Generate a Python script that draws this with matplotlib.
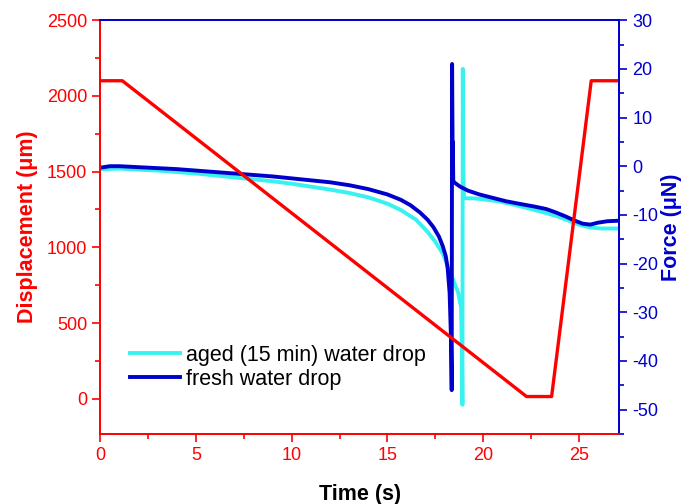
import matplotlib
matplotlib.use("Agg")
import matplotlib.pyplot as plt
from matplotlib.ticker import MultipleLocator

plt.rcParams["font.family"] = ["Liberation Sans", "DejaVu Sans"]
plt.rcParams["axes.unicode_minus"] = False

RED = "#ff0000"
BLUE = "#0000cc"
CYAN = "#38f2f0"

# displacement (left axis)
disp_t = [0, 1.15, 22.27, 23.58, 25.65, 27.1]
disp_um = [2100, 2100, 15, 15, 2100, 2100]

# fresh water drop force (right axis)
fresh_t = [0, 0.5, 1, 2, 3, 4, 5, 6, 7, 8, 9, 10, 11, 12, 13, 14, 15, 15.7,
           16.2, 16.7, 17.1, 17.4, 17.7, 17.9, 18.05, 18.15, 18.25, 18.32,
           18.36, 18.38, 18.40, 18.41, 18.42, 18.44, 18.47, 18.55, 18.8,
           19.2, 19.8, 20.5, 21.2, 22, 22.7, 23.3, 23.8, 24.3, 24.8, 25.2,
           25.6, 26, 26.5, 27.1]
fresh_f = [-0.3, 0, 0, -0.2, -0.4, -0.6, -0.9, -1.2, -1.5, -1.8, -2.1, -2.5,
           -2.9, -3.3, -3.9, -4.7, -5.8, -6.9, -8, -9.5, -11, -12.5, -14.5,
           -16.5, -18.5, -21, -26, -35, -46, 21, 8, 0, 5, -3, -3.2, -3.5,
           -4.2, -5, -5.8, -6.5, -7.2, -7.8, -8.3, -8.8, -9.5, -10.3, -11.2,
           -11.8, -12, -11.6, -11.3, -11.2]

# aged (15 min) water drop force (right axis)
aged_t = [0, 1, 2, 3, 4, 5, 6, 7, 8, 9, 10, 11, 12, 13, 14, 15, 15.7, 16.5,
          17.1, 17.5, 17.9, 18.2, 18.5, 18.7, 18.85, 18.9, 18.92, 18.94,
          18.96, 19.0, 19.1, 19.5, 20, 20.8, 21.5, 22.3, 23, 23.8, 24.5, 25,
          25.6, 26.2, 27.1]
aged_f = [-0.6, -0.5, -0.7, -0.9, -1.2, -1.5, -1.9, -2.3, -2.7, -3.1, -3.6,
          -4.2, -4.8, -5.5, -6.4, -7.7, -9, -11, -13.5, -15.5, -18, -21, -24,
          -26, -29, -40, -49, 20, 0, -6.5, -6.6, -6.6, -6.8, -7.2, -7.8, -8.6,
          -9.3, -10.2, -11.2, -12, -12.6, -12.8, -12.8]

fig = plt.figure(figsize=(6.87, 5.04), dpi=100)
ax1 = fig.add_axes([0.146, 0.139, 0.755, 0.821])
ax2 = ax1.twinx()

ax2.plot(aged_t, aged_f, color=CYAN, lw=2.8, label="aged (15 min) water drop")
ax2.plot(fresh_t, fresh_f, color=BLUE, lw=2.8, label="fresh water drop")
ax1.plot(disp_t, disp_um, color=RED, lw=2.4)

ax1.set_zorder(ax2.get_zorder() + 1)
ax1.patch.set_visible(False)

ax1.set_xlim(0, 27.1)
ax1.set_ylim(-232, 2500)
ax2.set_ylim(-55, 30)

ax1.xaxis.set_major_locator(MultipleLocator(5))
ax1.xaxis.set_minor_locator(MultipleLocator(2.5))
ax1.yaxis.set_major_locator(MultipleLocator(500))
ax1.yaxis.set_minor_locator(MultipleLocator(250))
ax2.yaxis.set_major_locator(MultipleLocator(10))
ax2.yaxis.set_minor_locator(MultipleLocator(5))

for ax in (ax1, ax2):
    ax.spines["left"].set_color(RED)
    ax.spines["bottom"].set_color(RED)
    ax.spines["right"].set_color(BLUE)
    ax.spines["top"].set_color(BLUE)
    for s in ax.spines.values():
        s.set_linewidth(1.3)

ax1.tick_params(axis="x", which="both", direction="out", colors=RED,
                labelsize=13, width=1.2)
ax1.tick_params(axis="y", which="both", direction="out", colors=RED,
                labelsize=13, width=1.2)
ax2.tick_params(axis="y", which="both", direction="out", colors=BLUE,
                labelsize=13, width=1.2)
for ax in (ax1, ax2):
    ax.tick_params(which="major", length=6)
    ax.tick_params(which="minor", length=3.5)

ax1.set_xlabel("Time (s)", fontsize=15.5, fontweight="bold", color="black",
               labelpad=14)
ax1.set_ylabel("Displacement (\u03bcm)", fontsize=15.5, fontweight="bold",
               color=RED, labelpad=6)
ax2.set_ylabel("Force (\u03bcN)", fontsize=15.5, fontweight="bold",
               color=BLUE, labelpad=2)

ax2.legend(loc="lower left", bbox_to_anchor=(0.02, 0.06), frameon=False,
           fontsize=15.5, handlelength=2.3, handletextpad=0.3,
           labelspacing=0.15)

fig.savefig("out.png", dpi=100)
